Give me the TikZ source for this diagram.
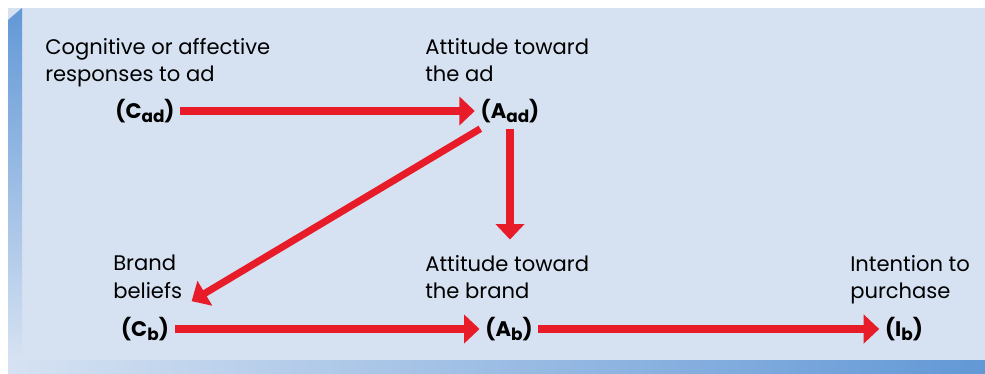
\documentclass[tikz,border=0pt]{standalone}
\usepackage{fontspec}
\setmainfont{Poppins}
\usetikzlibrary{arrows.meta, positioning}
\definecolor{painel}{RGB}{214,226,242}
\definecolor{bordaA}{RGB}{98,152,214}
\definecolor{seta}{RGB}{232,28,40}
\newcommand{\idx}[1]{\raisebox{-0.35ex}{\fontsize{12}{13}\selectfont #1}}

\begin{document}
\begin{tikzpicture}[x=0.025cm, y=-0.025cm,
    lbl/.style={anchor=north west, align=left, inner sep=0pt,
      font=\fontsize{15}{19.5}\selectfont, text=black},
    sym/.style={inner sep=4pt, font=\fontsize{15}{19}\selectfont\bfseries, text=black},
    arr/.style={-{Triangle[length=11pt, width=20pt]}, line width=5pt, draw=seta}]
    \useasboundingbox (0,0) rectangle (985,374);
    % fundo
    \fill[painel] (8,8) rectangle (985,360);
    \shade[top color=bordaA, bottom color=painel] (8,20) -- (22,8) -- (22,360) -- (8,360) -- cycle;
    \shade[left color=painel, right color=bordaA] (8,360) rectangle (985,374);
    % textos
    \node[lbl](cadtxt) at (45,38){Cognitive or affective\\responses to ad};
    \node[lbl](aadtxt) at (425,38){Attitude toward\\the ad};
    \node[lbl](cbtxt) at (113,255){Brand\\beliefs};
    \node[lbl](abtxt) at (425,255){Attitude toward\\the brand};
    \node[lbl](ibtxt) at (850,255){Intention to\\purchase};
    \node[sym](cad) at (145,111){(C\idx{ad})};
    \node[sym](aad) at (510,111){(A\idx{ad})};
    \node[sym](cb) at (145,329){(C\idx{b})};
    \node[sym](ab) at (509,329){(A\idx{b})};
    \node[sym](ib) at (904,329){(I\idx{b})};
    % setas
    \draw[arr](cad)--(aad); \draw[arr](cb)--(ab); \draw[arr](ab)--(ib);
    \draw[arr, shorten >=11pt](aad)--(aad |- abtxt.north);
    \draw[arr, shorten >=14pt](aad)--(cb);
  \end{tikzpicture}
\end{document}
